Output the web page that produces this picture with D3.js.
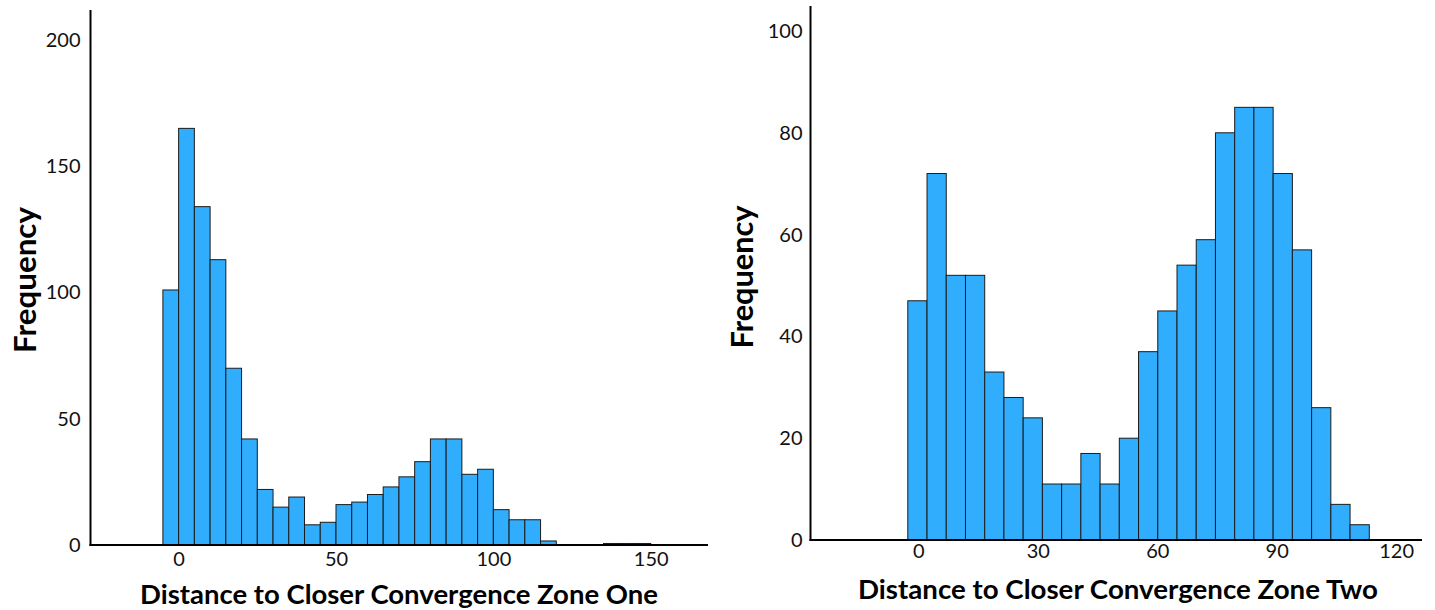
<!DOCTYPE html>
<html>
<head>
<meta charset="utf-8">
<script src="https://cdn.jsdelivr.net/npm/d3@7"></script>
<style>
  html, body { margin: 0; padding: 0; background: #ffffff; }
  svg { display: block; }
</style>
</head>
<body>
<svg id="chart" width="1435" height="610"></svg>
<script>
// ---------- DATA ----------
// Left histogram: Distance to Closer Convergence Zone One
const leftBinStart = -5;
const leftBinWidth = 5;
const leftCounts = [101, 165, 134, 113, 70, 42, 22, 15, 19, 8, 9, 16, 17, 20, 23, 27, 33, 42, 42, 28, 30, 14, 10, 10, 1.6, 0, 0, 0, 0.6, 0.6, 0.6];
const leftXTicks = [0, 50, 100, 150];
const leftYTicks = [0, 50, 100, 150, 200];
const leftXTitle = "Distance to Closer Convergence Zone One";

// Right histogram: Distance to Closer Convergence Zone Two
const rightBinStart = -2.66;
const rightBinWidth = 4.83;
const rightCounts = [47, 72, 52, 52, 33, 28, 24, 11, 11, 17, 11, 20, 37, 45, 54, 59, 80, 85, 85, 72, 57, 26, 7, 3];
const rightXTicks = [0, 30, 60, 90, 120];
const rightYTicks = [0, 20, 40, 60, 80, 100];
const rightXTitle = "Distance to Closer Convergence Zone Two";

const yTitle = "Frequency";

// ---------- DRAW ----------
const svg = d3.select("#chart");
const FONT = "Lato, 'Open Sans', sans-serif";
const BAR_FILL = "#31adfd";
const BAR_STROKE = "#1c1c1c";

function drawHist(cfg) {
  const x = d3.scaleLinear().domain(cfg.xDomain).range([cfg.left, cfg.right]);
  const y = d3.scaleLinear().domain([0, cfg.yMax]).range([cfg.base, cfg.yMaxPx]);
  const g = svg.append("g");

  const bins = cfg.counts.map((c, i) => ({
    x0: cfg.binStart + i * cfg.binWidth,
    x1: cfg.binStart + (i + 1) * cfg.binWidth,
    c: c
  }));

  g.selectAll("rect.bar").data(bins.filter(d => d.c > 0)).join("rect")
    .attr("class", "bar")
    .attr("x", d => x(d.x0))
    .attr("width", d => x(d.x1) - x(d.x0))
    .attr("y", d => y(d.c))
    .attr("height", d => y(0) - y(d.c))
    .attr("fill", BAR_FILL)
    .attr("stroke", BAR_STROKE)
    .attr("stroke-width", 1);

  const yAxis = d3.axisLeft(y).tickValues(cfg.yTicks).tickSize(0).tickPadding(cfg.yPad).tickFormat(d3.format("d"));
  const ya = g.append("g").attr("transform", `translate(${cfg.left},0)`).call(yAxis);
  ya.select(".domain").remove();
  ya.selectAll("text").attr("font-family", FONT).attr("font-size", 20).attr("fill", "#111");

  const xAxis = d3.axisBottom(x).tickValues(cfg.xTicks).tickSize(0).tickPadding(cfg.xPad).tickFormat(d3.format("d"));
  const xa = g.append("g").attr("transform", `translate(0,${cfg.base})`).call(xAxis);
  xa.select(".domain").remove();
  xa.selectAll("text").attr("font-family", FONT).attr("font-size", 20).attr("fill", "#111");

  g.append("line")
    .attr("x1", cfg.left).attr("x2", cfg.left)
    .attr("y1", cfg.axisTop).attr("y2", cfg.base + 1)
    .attr("stroke", "#000").attr("stroke-width", 2);
  g.append("line")
    .attr("x1", cfg.left - 1).attr("x2", cfg.right)
    .attr("y1", cfg.base).attr("y2", cfg.base)
    .attr("stroke", "#000").attr("stroke-width", 2);

  g.append("text")
    .attr("x", cfg.xTitleX).attr("y", cfg.xTitleY)
    .attr("text-anchor", "middle")
    .attr("font-family", FONT).attr("font-weight", "bold").attr("font-size", 26)
    .attr("textLength", cfg.xTitleW).attr("lengthAdjust", "spacingAndGlyphs")
    .attr("fill", "#000")
    .text(cfg.xTitle);

  g.append("text")
    .attr("transform", `translate(${cfg.yTitleX},${cfg.yTitleY}) rotate(-90)`)
    .attr("text-anchor", "middle")
    .attr("font-family", FONT).attr("font-weight", "bold").attr("font-size", 30)
    .attr("textLength", cfg.yTitleW).attr("lengthAdjust", "spacingAndGlyphs")
    .attr("fill", "#000")
    .text(yTitle);
}

drawHist({
  counts: leftCounts, binStart: leftBinStart, binWidth: leftBinWidth,
  xDomain: [-28, 168.2], left: 90.5, right: 708,
  yMax: 200, base: 545, yMaxPx: 40, axisTop: 10,
  xTicks: leftXTicks, yTicks: leftYTicks, yPad: 10, xPad: 7,
  xTitle: leftXTitle, xTitleX: 399, xTitleY: 604, xTitleW: 518,
  yTitleX: 36, yTitleY: 280, yTitleW: 146
});

drawHist({
  counts: rightCounts, binStart: rightBinStart, binWidth: rightBinWidth,
  xDomain: [-27.1, 126.5], left: 810.5, right: 1422,
  yMax: 100, base: 540, yMaxPx: 31, axisTop: 6,
  xTicks: rightXTicks, yTicks: rightYTicks, yPad: 8, xPad: 4,
  xTitle: rightXTitle, xTitleX: 1118, xTitleY: 599, xTitleW: 520,
  yTitleX: 753, yTitleY: 277, yTitleW: 143
});
</script>
</body>
</html>
